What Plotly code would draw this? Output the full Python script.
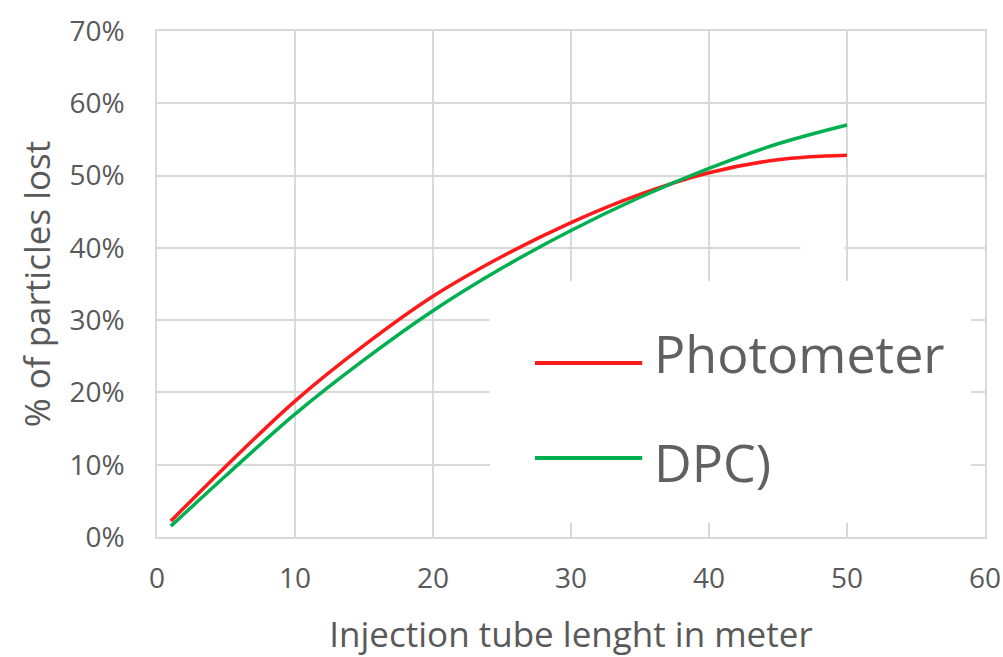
import plotly.graph_objects as go

length_m = [1, 5, 10, 15, 20, 25, 30, 35, 40, 45, 50]
photometer = [0.022, 0.098, 0.188, 0.265, 0.333, 0.388, 0.435, 0.474, 0.504, 0.522, 0.528]
dpc = [0.015, 0.085, 0.170, 0.245, 0.313, 0.372, 0.424, 0.470, 0.510, 0.544, 0.570]
series_names = ["Photometer", "DPC)"]
series_colors = ["#ff1a1a", "#00b050"]

x_ticks = [0, 10, 20, 30, 40, 50, 60]
y_ticks = [0, 0.1, 0.2, 0.3, 0.4, 0.5, 0.6, 0.7]

FONT = "Open Sans"
GRAY = "#595959"
GRID = "#d9d9d9"

fig = go.Figure()
for name, vals, col in zip(series_names, [photometer, dpc], series_colors):
    fig.add_trace(go.Scatter(x=length_m, y=vals, mode="lines", name=name,
                             line=dict(color=col, width=3.5, shape="spline"),
                             showlegend=False))

# legend box (white panel covering gridlines)
fig.add_shape(type="rect", xref="paper", yref="paper", x0=0.402, x1=0.983, y0=0.028, y1=0.506,
              fillcolor="white", line_width=0, layer="above")
fig.add_shape(type="rect", xref="paper", yref="paper", x0=0.777, x1=0.83, y0=0.49, y1=0.58,
              fillcolor="white", line_width=0, layer="above")

legend_line_y = [0.344, 0.156]
legend_text_y = [0.364, 0.150]
for name, col, ly, ty in zip(series_names, series_colors, legend_line_y, legend_text_y):
    fig.add_shape(type="line", xref="paper", yref="paper", x0=0.4565, x1=0.586, y0=ly, y1=ly,
                  line=dict(color=col, width=4), layer="above")
    fig.add_annotation(xref="paper", yref="paper", x=0.598, y=ty, text=name,
                       showarrow=False, xanchor="left", yanchor="middle",
                       font=dict(family=FONT, size=52, color="#606060"))

fig.update_layout(
    width=1003, height=657,
    margin=dict(l=157, r=18, t=31, b=120),
    paper_bgcolor="white", plot_bgcolor="white",
    font=dict(family=FONT, color=GRAY, size=28),
)
fig.update_xaxes(range=[0, 60], tickvals=x_ticks, showgrid=True, gridcolor=GRID, gridwidth=1.5,
                 showline=True, linecolor=GRID, linewidth=1.5, mirror=True, zeroline=False,
                 ticks="outside", ticklen=16, tickcolor="rgba(0,0,0,0)", automargin=False,
                 tickfont=dict(family=FONT, size=28, color=GRAY),
                 title=dict(text="Injection tube lenght in meter", standoff=34,
                            font=dict(family=FONT, size=35, color=GRAY)))
fig.update_yaxes(range=[0, 0.7], tickvals=y_ticks, tickformat=".0%", showgrid=True, gridcolor=GRID,
                 gridwidth=1.5, showline=True, linecolor=GRID, linewidth=1.5, mirror=True,
                 zeroline=False, ticks="outside", ticklen=25, tickcolor="rgba(0,0,0,0)",
                 automargin=False,
                 tickfont=dict(family=FONT, size=28, color=GRAY),
                 title=dict(text="% of particles lost", standoff=8,
                            font=dict(family=FONT, size=35, color=GRAY)))

fig.write_html("out.html", config={"displayModeBar": False},
               post_script="document.body.style.margin='0';document.body.style.overflow='hidden';")
